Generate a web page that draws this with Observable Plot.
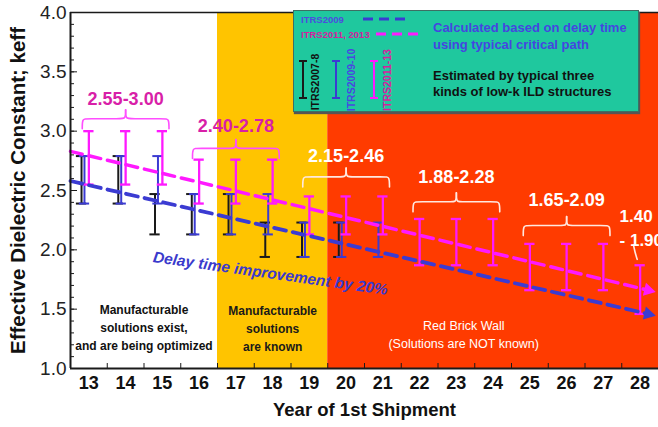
<!DOCTYPE html>
<html>
<head>
<meta charset="utf-8">
<script src="https://cdn.jsdelivr.net/npm/d3@7"></script>
<script src="https://cdn.jsdelivr.net/npm/@observablehq/plot@0.6"></script>
<style>
  html, body { margin: 0; padding: 0; background: #fff; }
  #wrap { position: relative; width: 658px; height: 427px; overflow: hidden; }
  #legend { position: absolute; left: 293px; top: 10px; width: 344px; height: 100px;
            background: #1fc89e; border: 1px solid #3d6f63; box-shadow: 1px 2px 1px #555; }
  #legend svg { position: absolute; left: 0; top: 0; }
</style>
</head>
<body>
<div id="wrap"></div>
<script>
// ---------- data ----------
const years = [13,14,15,16,17,18,19,20,21,22,23,24,25,26,27,28];

// ITRS2007-8 (black) error bars
const itrs2007Years = [13,14,15,16,17,18,19,20];
const itrs2007Low   = [2.39,2.39,2.13,2.13,2.13,1.94,1.94,1.94];
const itrs2007High  = [2.79,2.79,2.47,2.47,2.47,2.23,2.23,2.23];

// ITRS2009-10 (blue) error bars
const itrs2009Years = [13,14,15,16,17,18,19,20,21];
const itrs2009Low   = [2.39,2.39,2.39,2.13,2.13,2.13,1.94,1.94,1.94];
const itrs2009High  = [2.79,2.79,2.79,2.47,2.47,2.47,2.23,2.23,2.23];

// ITRS2011-13 (magenta) error bars
const itrs2011Years = [13,14,15,16,17,18,19,20,21,22,23,24,25,26,27,28];
const itrs2011Low   = [2.55,2.55,2.55,2.39,2.39,2.39,2.13,2.13,2.13,1.87,1.87,1.87,1.66,1.66,1.66,1.46];
const itrs2011High  = [3.00,3.00,3.00,2.76,2.76,2.76,2.45,2.45,2.45,2.26,2.26,2.26,2.05,2.05,2.05,1.87];

// delay-time trend lines (dashed, with arrow)
const trendX        = [12.5, 28.22];
const itrs2009Trend = [2.58, 1.46];
const itrs2011Trend = [2.83, 1.66];

// range groups (braces + labels)
const groupFrom   = [13, 16, 19, 22, 25];
const groupTo     = [15, 18, 21, 24, 27];
const groupBase   = [3.02, 2.77, 2.53, 2.32, 2.12];
const groupLabelY = [3.27, 3.04, 2.79, 2.61, 2.42];
const groupText   = ["2.55-3.00", "2.40-2.78", "2.15-2.46", "1.88-2.28", "1.65-2.09"];
const groupColor  = ["#d81fa8", "#d81fa8", "#ffffff", "#ffffff", "#ffffff"];
const braceColor  = ["#ff4dff", "#ff4dff", "#ffe8e0", "#ffe8e0", "#ffe8e0"];
const lastLabel   = "1.40\n- 1.90";
const lastLabelX  = 27.44, lastLabelY = 2.20;
const leaderX = [27.82, 27.86, 27.92];
const leaderY = [2.04, 1.98, 1.92];

// zones
const zoneStart = [12.5, 16.5, 19.5];
const zoneEnd   = [16.5, 19.5, 28.5];
const zoneFill  = ["#ffffff", "#ffc400", "#ff3b00"];
const zoneText  = ["Manufacturable\nsolutions exist,\nand are being optimized",
                   "Manufacturable\nsolutions\nare known",
                   "Red Brick Wall\n(Solutions are NOT known)"];
const zoneTextX = [14.5, 18, 23.2];
const zoneTextY = [1.36, 1.345, 1.30];
const zoneTextColor = ["#111111", "#1a1a1a", "#ffffff"];
const zoneTextWeight = ["bold", "bold", "normal"];

const noteText = "Delay time improvement by 20%";
const noteX = 17.94, noteY = 1.80;

const yLabelTicks = [1.0, 1.5, 2.0, 2.5, 3.0, 3.5, 4.0];
const yMinorTicks = d3.range(10, 41).map(d => d / 10);
const xHalfTicks  = years.map(y => y + 0.5);

// ---------- layout ----------
const W = 658, H = 427, mL = 70, mR = 0, mT = 12, mB = 59;
const xDom = [12.5, 28.5], yDom = [1, 4];
const pxX = (W - mL - mR) / (xDom[1] - xDom[0]);
const pxY = (H - mT - mB) / (yDom[1] - yDom[0]);

const MAG = "#ff19ff", BLUE = "#3b3bd2", BLK = "#1a1a1a";
const SANS = "Liberation Sans, Arial, sans-serif";

function barRows(ys, lo, hi, off) {
  return ys.map((y, i) => ({x: y + off, lo: lo[i], hi: hi[i]}));
}
function capRows(rows) {
  return rows.flatMap(r => [{x: r.x, y: r.lo}, {x: r.x, y: r.hi}]);
}
const capHalf = 0.14;
const b2007 = barRows(itrs2007Years, itrs2007Low, itrs2007High, -0.2);
const b2009 = barRows(itrs2009Years, itrs2009Low, itrs2009High, -0.12);
const b2011 = barRows(itrs2011Years, itrs2011Low, itrs2011High, 0);

function errorBars(rows, color, sw) {
  return [
    Plot.ruleX(rows, {x: "x", y1: "lo", y2: "hi", stroke: color, strokeWidth: sw}),
    Plot.ruleY(capRows(rows), {y: "y", x1: d => d.x - capHalf, x2: d => d.x + capHalf, stroke: color, strokeWidth: sw})
  ];
}

const trendRows = trendX.map((x, i) => ({x, b: itrs2009Trend[i], m: itrs2011Trend[i]}));
function angleOf(key) {
  const a = trendRows[0], b = trendRows[trendRows.length - 1];
  return Math.atan2((a[key] - b[key]) * pxY, (b.x - a.x) * pxX) * 180 / Math.PI;
}
const endRow = trendRows[trendRows.length - 1];

// braces
const h = 0.085, p = 0.16, ext = 0.18, rnd = 0.12;
const braceRows = [];
groupFrom.forEach((f, i) => {
  const x0 = f - ext, x1 = groupTo[i] + ext, xm = (f + groupTo[i]) / 2, b = groupBase[i];
  const left  = [[x0,b],[x0,b+h],[x0+rnd,b+h],[xm-rnd,b+h],[xm,b+h],[xm,b+p]];
  const right = [[x1,b],[x1,b+h],[x1-rnd,b+h],[xm+rnd,b+h],[xm,b+h],[xm,b+p]];
  left.forEach(([x, y]) => braceRows.push({x, y, z: i + "L", c: braceColor[i]}));
  right.forEach(([x, y]) => braceRows.push({x, y, z: i + "R", c: braceColor[i]}));
});
const labelRows = groupText.map((t, i) => ({x: (groupFrom[i] + groupTo[i]) / 2, y: groupLabelY[i], t, c: groupColor[i]}));
const leaderRows = leaderX.map((x, i) => ({x, y: leaderY[i]}));

const zones = zoneStart.map((s, i) => ({x1: s, x2: zoneEnd[i], fill: zoneFill[i], text: zoneText[i],
  tx: zoneTextX[i], ty: zoneTextY[i], tc: zoneTextColor[i], tw: zoneTextWeight[i]}));

const chart = Plot.plot({
  width: W, height: H,
  marginLeft: mL, marginRight: mR, marginTop: mT, marginBottom: mB,
  style: {fontFamily: SANS, background: "transparent", overflow: "visible"},
  x: {domain: xDom},
  y: {domain: yDom},
  marks: [
    Plot.rect(zones, {x1: "x1", x2: "x2", fill: d => d.fill}),
    ...zoneStart.map((s, i) => Plot.text([zones[i]], {x: "tx", y: "ty", text: "text", fill: "tc",
      fontSize: i === 2 ? 12.5 : 12, fontWeight: zoneTextWeight[i], lineHeight: 1.5})),
    // frame
    Plot.ruleY([4], {stroke: BLK, strokeWidth: 1.5}),
    // error bars
    ...errorBars(b2007, BLK, 2),
    ...errorBars(b2009, BLUE, 2),
    ...errorBars(b2011, MAG, 2.3),
    // trend lines
    Plot.line(trendRows, {x: "x", y: "m", stroke: MAG, strokeWidth: 3.5, strokeDasharray: "12,7"}),
    Plot.line(trendRows, {x: "x", y: "b", stroke: BLUE, strokeWidth: 3.8, strokeDasharray: "12,7"}),
    Plot.dot([endRow], {x: "x", y: "m", symbol: "triangle", r: 5, fill: MAG, rotate: 90 + angleOf("m")}),
    Plot.dot([endRow], {x: "x", y: "b", symbol: "triangle", r: 5, fill: BLUE, rotate: 90 + angleOf("b")}),
    // braces and labels
    Plot.line(braceRows, {x: "x", y: "y", z: "z", stroke: "c", strokeWidth: 1.6, curve: "basis"}),
    Plot.line(leaderRows, {x: "x", y: "y", stroke: "#ffe8e0", strokeWidth: 1.6, curve: "basis"}),
    Plot.text(labelRows, {x: "x", y: "y", text: "t", fill: "c", fontSize: 18, fontWeight: "bold"}),
    Plot.text([lastLabel], {x: lastLabelX, y: lastLabelY, text: d => d, fill: "#ffffff", fontSize: 17,
      fontWeight: "bold", textAnchor: "start", lineHeight: 1.4}),
    Plot.text([noteText], {x: noteX, y: noteY, text: d => d, fill: "#3a3acc", fontSize: 15.5,
      fontWeight: "bold", fontStyle: "italic", rotate: 8}),
    // axes
    Plot.ruleX([12.5], {stroke: BLK, strokeWidth: 2}),
    Plot.ruleY([1], {stroke: BLK, strokeWidth: 2}),
    Plot.axisY({ticks: yLabelTicks, tickSize: 0, tickPadding: 4, tickFormat: d3.format(".1f"),
      fontSize: 19, fill: "#222", label: null}),
    Plot.axisY({ticks: yLabelTicks, tickSize: -7, text: null, label: null, stroke: BLK}),
    Plot.axisY({ticks: yMinorTicks, tickSize: -4, text: null, label: null, stroke: BLK}),
    Plot.axisX({ticks: years, tickSize: 0, tickPadding: 8, tickFormat: d => String(d),
      fontSize: 18, fontWeight: "bold", fill: "#111", label: null}),
    Plot.axisX({ticks: xHalfTicks, tickSize: -5, text: null, label: null, stroke: BLK}),
    Plot.text(["Effective Dielectric Constant; keff"], {frameAnchor: "left", dx: -52, rotate: -90,
      textAnchor: "middle", lineAnchor: "middle",
      text: d => d, fontSize: 20.5, fontWeight: "bold", fill: "#111"}),
    Plot.text(["Year of 1st Shipment"], {frameAnchor: "bottom", dy: 42, lineAnchor: "middle", text: d => d,
      fontSize: 18.5, fontWeight: "bold", fill: "#111"})
  ]
});

const wrap = document.getElementById("wrap");
wrap.appendChild(chart);

// ---------- legend (overlay box) ----------
const legendItems = [
  {label: "ITRS2007-8",  color: BLK,       text: "#111111"},
  {label: "ITRS2009-10", color: BLUE,      text: "#4848e0"},
  {label: "ITRS2011-13", color: MAG,       text: "#d6209e"}
];
const legend = document.createElement("div");
legend.id = "legend";
const svg = d3.create("svg").attr("width", 344).attr("height", 100)
  .style("font-family", SANS).style("font-weight", "bold");
svg.append("text").attr("x", 7).attr("y", 12).attr("font-size", 9.5).attr("fill", "#4c4ce0").text("ITRS2009");
svg.append("text").attr("x", 7).attr("y", 27).attr("font-size", 9.5).attr("fill", "#d6209e").text("ITRS2011, 2013");
svg.append("line").attr("x1", 69).attr("x2", 112).attr("y1", 8).attr("y2", 8)
  .attr("stroke", BLUE).attr("stroke-width", 3).attr("stroke-dasharray", "10,6");
svg.append("line").attr("x1", 82).attr("x2", 125).attr("y1", 23).attr("y2", 23)
  .attr("stroke", MAG).attr("stroke-width", 3).attr("stroke-dasharray", "10,6");
svg.append("text").attr("x", 139).attr("y", 21).attr("font-size", 13).attr("fill", "#4545e0").text("Calculated based on delay time");
svg.append("text").attr("x", 139).attr("y", 38).attr("font-size", 13).attr("fill", "#4545e0").text("using typical critical path");
svg.append("text").attr("x", 139).attr("y", 69).attr("font-size", 13).attr("fill", "#111").text("Estimated by typical three");
svg.append("text").attr("x", 139).attr("y", 85).attr("font-size", 13).attr("fill", "#111").text("kinds of low-k ILD structures");
const iconX = [9, 42, 80], labelX = [25, 61, 97], labelCY = [71, 69, 69];
legendItems.forEach((it, i) => {
  const g = svg.append("g").attr("stroke", it.color).attr("stroke-width", 2);
  g.append("line").attr("x1", iconX[i]).attr("x2", iconX[i]).attr("y1", 50).attr("y2", 87);
  g.append("line").attr("x1", iconX[i] - 4).attr("x2", iconX[i] + 4).attr("y1", 50).attr("y2", 50);
  g.append("line").attr("x1", iconX[i] - 4).attr("x2", iconX[i] + 4).attr("y1", 87).attr("y2", 87);
  svg.append("text").attr("transform", `translate(${labelX[i]},${labelCY[i]}) rotate(-90)`)
    .attr("text-anchor", "middle").attr("font-size", 10.5).attr("fill", it.text).text(it.label);
});
legend.appendChild(svg.node());
wrap.appendChild(legend);
</script>
</body>
</html>
